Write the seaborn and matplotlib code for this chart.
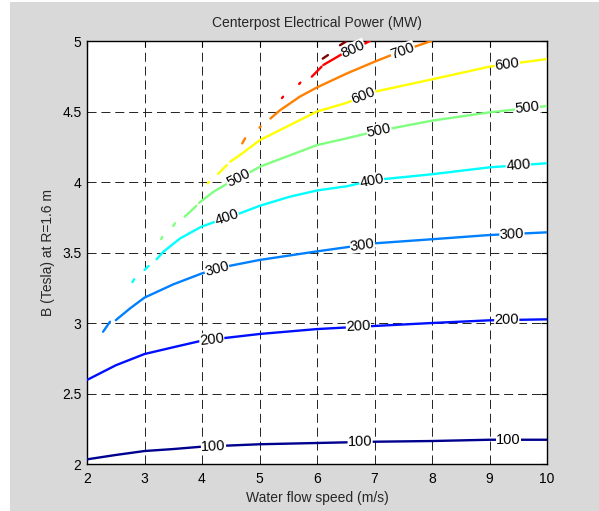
import numpy as np
import pandas as pd
import matplotlib
matplotlib.use('Agg')
import matplotlib.pyplot as plt
from matplotlib.patches import Rectangle
import seaborn as sns

# Contour levels (MW), each as a list of (x, B) segments
levels = [100, 200, 300, 400, 500, 600, 700, 800, 900]
level_colors = ['#00008f', '#0010ff', '#0080ff', '#00ffff', '#80ff80',
                '#ffff00', '#ff8000', '#ff0000', '#800000']

seg_100 = [([2, 2.5, 3, 3.5, 4, 5, 6, 7, 8, 9, 10],
            [2.033, 2.064, 2.092, 2.106, 2.123, 2.14, 2.149, 2.158, 2.163, 2.172, 2.172])]
seg_200 = [([2, 2.5, 3, 3.5, 4, 5, 6, 7, 8, 9, 10],
            [2.596, 2.70, 2.78, 2.828, 2.875, 2.922, 2.957, 2.979, 3.0, 3.019, 3.026])]
seg_300 = [([2.28, 2.40], [2.938, 3.009]),
           ([2.5, 2.75, 3, 3.5, 4, 4.5, 5, 6, 7, 8, 9, 10],
            [3.02, 3.104, 3.18, 3.274, 3.352, 3.407, 3.447, 3.508, 3.565, 3.594, 3.624, 3.643])]
seg_400 = [([2.79, 2.82], [3.29, 3.31]),
           ([3.0, 3.07], [3.376, 3.404]),
           ([3.21, 3.33, 3.62, 3.99, 4.31, 4.66, 5.01, 5.53, 6.0, 6.52, 7.0, 8, 9, 10],
            [3.452, 3.506, 3.60, 3.683, 3.73, 3.778, 3.832, 3.896, 3.94, 3.97, 4.014, 4.055, 4.104, 4.133])]
seg_500 = [([3.29, 3.31], [3.595, 3.61]),
           ([3.50, 3.53], [3.688, 3.707]),
           ([3.70, 3.90], [3.754, 3.83]),
           ([3.95, 4.20, 4.43, 4.78, 5.01, 5.47, 6.0, 6.52, 7.0, 8, 9, 10],
            [3.852, 3.931, 3.986, 4.057, 4.109, 4.18, 4.262, 4.31, 4.357, 4.435, 4.494, 4.539])]
seg_600 = [([4.10, 4.12], [3.99, 4.0]),
           ([4.28, 4.43], [4.057, 4.12]),
           ([4.49, 4.69, 5.01, 5.36, 6.0, 6.52, 7.0, 8, 9, 10],
            [4.144, 4.20, 4.298, 4.369, 4.50, 4.562, 4.64, 4.728, 4.818, 4.872])]
seg_700 = [([4.70, 4.75], [4.274, 4.31]),
           ([5.00, 5.02], [4.385, 4.395]),
           ([5.19, 5.36, 5.70, 6.0, 6.52, 7.0, 7.44, 7.99],
            [4.45, 4.51, 4.605, 4.671, 4.77, 4.853, 4.924, 5.0])]
seg_800 = [([5.39, 5.41], [4.595, 4.605]),
           ([5.69, 5.71], [4.695, 4.705]),
           ([5.91, 6.08], [4.747, 4.818]),
           ([6.11, 6.46, 6.63, 6.92], [4.83, 4.913, 4.94, 5.0])]
seg_900 = [([6.10, 6.19], [4.875, 4.90]),
           ([6.40, 6.50], [4.97, 4.995])]

# x positions of the inline labels
label_x = {100: [4.2, 6.75, 9.33], 200: [4.17, 6.72, 9.3], 300: [4.26, 6.79, 9.39],
           400: [4.43, 6.95, 9.5], 500: [4.63, 7.08, 9.66], 600: [6.81, 9.31],
           700: [7.49], 800: [6.63]}

all_segs = {100: seg_100, 200: seg_200, 300: seg_300, 400: seg_400, 500: seg_500,
            600: seg_600, 700: seg_700, 800: seg_800, 900: seg_900}

rows = []
for lev, segs in all_segs.items():
    for i, (xs, bs) in enumerate(segs):
        for x, b in zip(xs, bs):
            rows.append([lev, f'{lev}-{i}', x, b])
df = pd.DataFrame(rows, columns=['level', 'seg', 'speed', 'B'])

pal = dict(zip(levels, level_colors))

sns.set_style('white')
plt.rcParams['font.family'] = ['Liberation Sans', 'DejaVu Sans']
plt.rcParams['lines.scale_dashes'] = False

fig = plt.figure(figsize=(5.99, 5.11), dpi=100)
fig.patch.set_facecolor('white')
fig.add_artist(Rectangle((10 / 599, 0), 1, 509 / 511, transform=fig.transFigure,
                         facecolor='#d9d9d9', edgecolor='none', zorder=-10))
ax = fig.add_axes([87 / 599, 47 / 511, 460 / 599, 423 / 511])
ax.set_facecolor('white')

sns.lineplot(data=df, x='speed', y='B', hue='level', units='seg', estimator=None,
             sort=False, palette=pal, legend=False, linewidth=1.7,
             solid_capstyle='round', ax=ax, zorder=3)

ax.set_xlim(2, 10)
ax.set_ylim(2, 5)
ax.set_xticks(range(2, 11))
ax.set_yticks([2, 2.5, 3, 3.5, 4, 4.5, 5])
ax.set_yticklabels(['2', '2.5', '3', '3.5', '4', '4.5', '5'])
ax.grid(True, color='#222222', linestyle=(0, (6.5, 3.5)), linewidth=0.7)
ax.set_axisbelow(True)
ax.tick_params(direction='in', length=4, width=0.8, top=True, right=True,
               labelsize=10, colors='black')
ax.tick_params(axis='x', pad=6)
ax.tick_params(axis='y', pad=4)
for sp in ax.spines.values():
    sp.set_color('black')
    sp.set_linewidth(1.0)

ax.set_xlabel('Water flow speed (m/s)', fontsize=10, labelpad=3)
ax.set_ylabel('B (Tesla) at R=1.6 m', fontsize=10, labelpad=5)
ax.set_title('Centerpost Electrical Power (MW)', fontsize=10, pad=10)

# inline contour labels, rotated along the curve
for lev, xs in label_x.items():
    mx, mb = all_segs[lev][-1]
    for x in xs:
        y = np.interp(x, mx, mb)
        p0 = ax.transData.transform((x - 0.15, np.interp(x - 0.15, mx, mb)))
        p1 = ax.transData.transform((x + 0.15, np.interp(x + 0.15, mx, mb)))
        ang = np.degrees(np.arctan2(p1[1] - p0[1], p1[0] - p0[0]))
        ax.text(x, y, str(lev), fontsize=10.5, color='black', rotation=ang,
                rotation_mode='anchor', ha='center', va='center', zorder=5,
                bbox=dict(facecolor='white', edgecolor='none', pad=0.2))

fig.savefig('out.png', dpi=100)
